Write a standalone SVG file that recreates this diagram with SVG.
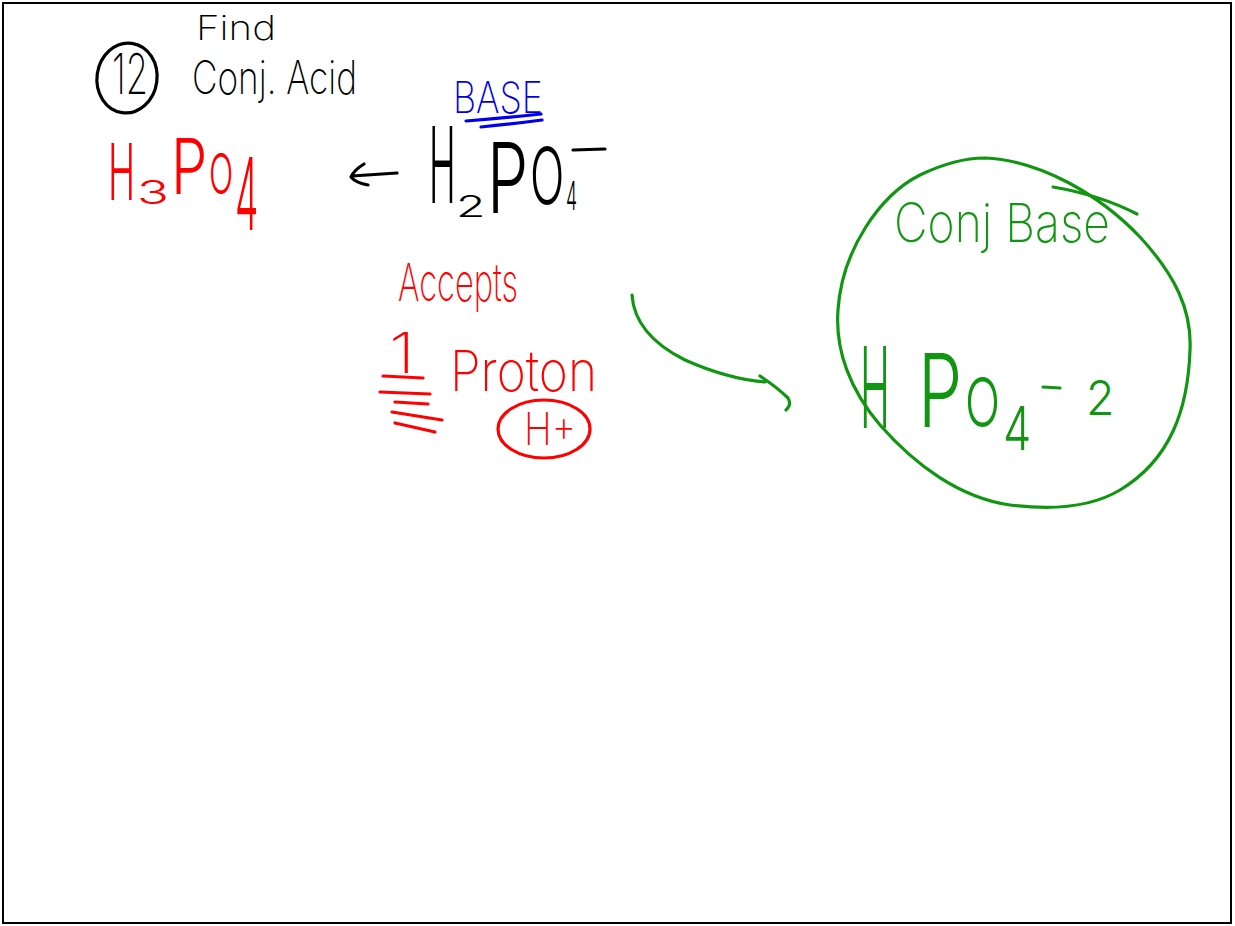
<svg xmlns="http://www.w3.org/2000/svg" width="1235" height="926" viewBox="0 0 1235 926">
<style>
.t{font-family:Inter,"DejaVu Sans","Liberation Sans",sans-serif;font-weight:200}
.f{font-family:Inter,"DejaVu Sans","Liberation Sans",sans-serif;font-weight:300}
.k{fill:#000}.r{fill:#ff0000}.b{fill:#0000ee}.g{fill:#119611}
.s{fill:none;stroke-width:3.2;stroke-linecap:round;stroke-linejoin:round}
.sk{stroke:#000}.sr{stroke:#ff0000}.sb{stroke:#0000ee}.sg{stroke:#119611}
</style>
<rect x="3" y="3" width="1228" height="920" fill="#fff" stroke="#000" stroke-width="2"/>
<g id="title">
<ellipse cx="127" cy="78" rx="30" ry="35" transform="rotate(8 127 78)" class="s sk"/>
<text class="t k" x="112" y="94" font-size="56" textLength="36" lengthAdjust="spacingAndGlyphs">12</text>
<text class="t k" x="196" y="40" font-size="34" textLength="80" lengthAdjust="spacingAndGlyphs">Find</text>
<text class="t k" x="192" y="94" font-size="46" textLength="165" lengthAdjust="spacingAndGlyphs">Conj. Acid</text>
</g>
<g id="h3po4" class="f r">
<text transform="translate(108 0) scale(0.47 1)" y="200" font-size="78">H</text>
<text transform="translate(137 0) scale(1.6 1)" y="204" font-size="33">3</text>
<text transform="translate(171 0) scale(0.75 1)" y="194" font-size="77">P</text>
<text transform="translate(209 0) scale(0.57 1)" y="194" font-size="56">O</text>
<text transform="translate(235 0) scale(0.37 1)" y="230" font-size="100">4</text>
</g>
<g id="h2po4">
<text class="t b" x="453" y="113" font-size="43" textLength="90" lengthAdjust="spacingAndGlyphs">BASE</text>
<path class="s sb" d="M466 121 Q505 118 541 114 M481 127 Q512 124 542 120"/>
<g class="f k">
<text transform="translate(429 0) scale(0.34 1)" y="203" font-size="106">H</text>
<text transform="translate(456 0) scale(1.6 1)" y="217" font-size="30">2</text>
<text transform="translate(487 0) scale(0.67 1)" y="213" font-size="98">P</text>
<text transform="translate(530 0) scale(0.58 1)" y="204" font-size="78">O</text>
<text transform="translate(566 0) scale(0.44 1)" y="210" font-size="40">4</text>
</g>
<path class="s sk" d="M573 150 L605 149"/>
</g>
<g id="accepts">
<text class="t r" x="398" y="301" font-size="52" textLength="120" lengthAdjust="spacingAndGlyphs">Accepts</text>
<text class="t r" x="389" y="373" font-size="56" textLength="26" lengthAdjust="spacingAndGlyphs">1</text>
<path class="s sr" d="M383 376 L423 378 M380 392 L430 394 M395 402 L428 404 M392 412 L442 420 M395 423 L435 432"/>
<text class="t r" x="450" y="391" font-size="56" textLength="147" lengthAdjust="spacingAndGlyphs">Proton</text>
<ellipse cx="544" cy="429" rx="46" ry="29" class="s sr"/>
<text class="t r" x="524" y="445" font-size="45" textLength="52" lengthAdjust="spacingAndGlyphs">H+</text>
</g>
<g id="connectors">
<path class="s sk" d="M397 173 L352 176 M364 164 Q354 170 351 177 Q356 183 368 185"/>
<path class="s sg" d="M632 295 C634 325 655 345 685 360 C712 372 740 380 765 382 M760 376 Q778 388 788 398 Q792 405 786 410"/>
</g>
<g id="conjbase">
<path class="s sg" d="M985 158 C1040 160 1100 195 1140 237 C1175 275 1192 310 1190 350 C1188 410 1170 460 1120 490 C1090 508 1050 510 1010 505 C960 498 915 465 880 425 C850 390 835 350 838 310 C842 250 880 195 920 175 C945 163 965 158 985 158 Z"/>
<path class="s sg" d="M1053 187 Q1100 195 1137 214"/>
<text class="t g" x="894" y="242" font-size="54" textLength="216" lengthAdjust="spacingAndGlyphs">Conj Base</text>
<g class="f g">
<text transform="translate(860 0) scale(0.36 1)" y="428" font-size="112">H</text>
<text transform="translate(918 0) scale(0.69 1)" y="427" font-size="102">P</text>
<text transform="translate(965 0) scale(0.68 1)" y="427" font-size="68">O</text>
<text transform="translate(1003 0) scale(0.75 1)" y="450" font-size="60">4</text>
<text transform="translate(1086 0) scale(0.97 1)" y="415" font-size="48">2</text>
</g>
<path class="s sg" d="M1043 387 L1060 388"/>
</g>
</svg>
